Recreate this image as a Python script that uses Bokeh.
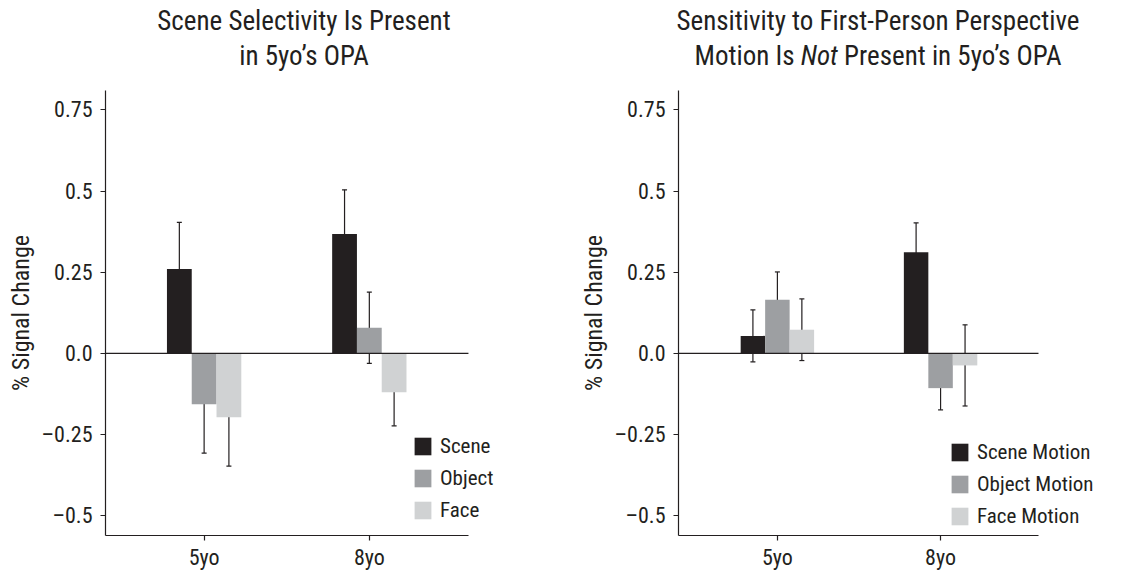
from bokeh.plotting import figure
from bokeh.models import (ColumnDataSource, Legend, LegendItem, Whisker,
                          TeeHead, FixedTicker, Div)
from bokeh.transform import dodge
from bokeh.layouts import row, column
from bokeh.embed import file_html
from bokeh.resources import INLINE

# ---- data ----
groups = ["5yo", "8yo"]
group_x = [1, 2]

left_series = ["Scene", "Object", "Face"]
left_values = [[0.26, 0.368], [-0.157, 0.079], [-0.197, -0.12]]
left_errors = [[0.144, 0.136], [0.15, 0.11], [0.15, 0.103]]

right_series = ["Scene Motion", "Object Motion", "Face Motion"]
right_values = [[0.054, 0.312], [0.165, -0.107], [0.073, -0.037]]
right_errors = [[0.08, 0.09], [0.086, 0.067], [0.095, 0.125]]

y_ticks = [-0.5, -0.25, 0.0, 0.25, 0.5, 0.75]
y_tick_labels = ["\u20130.5", "\u20130.25", "0.0", "0.25", "0.5", "0.75"]

colors = ["#231f20", "#9d9fa2", "#d0d2d3"]
INK = "#231f20"
FONT = "'Roboto Condensed', 'Liberation Sans Narrow', 'DejaVu Sans Condensed', sans-serif"
BAR_W = 0.15
offsets = [-BAR_W, 0.0, BAR_W]
Y_RANGE = (-0.561, 0.81)


def make_panel(series, values, errors, x_range, axis_end, width, border_left,
               border_right, legend_loc):
    p = figure(width=width, height=496, x_range=x_range, y_range=Y_RANGE,
               output_backend="svg", toolbar_location=None,
               min_border_left=border_left, min_border_right=border_right,
               min_border_top=14, min_border_bottom=36)
    p.grid.visible = False
    p.outline_line_color = None
    p.background_fill_color = "white"

    items = []
    for i, name in enumerate(series):
        src = ColumnDataSource(dict(
            x=group_x,
            top=values[i],
            upper=[v + e for v, e in zip(values[i], errors[i])],
            lower=[v - e for v, e in zip(values[i], errors[i])],
        ))
        r = p.vbar(x=dodge("x", offsets[i]), top="top", bottom=0, width=BAR_W,
                   source=src, fill_color=colors[i], line_color=None)
        items.append(LegendItem(label=name, renderers=[r]))
        w = Whisker(base=dodge("x", offsets[i]), upper="upper", lower="lower",
                    source=src, line_color=INK, line_width=1.2,
                    upper_head=TeeHead(size=5, line_color=INK, line_width=1.2),
                    lower_head=TeeHead(size=5, line_color=INK, line_width=1.2))
        p.add_layout(w)

    # zero line, ending where the x axis ends
    p.segment(x0=[x_range[0]], y0=[0], x1=[axis_end], y1=[0],
              line_color=INK, line_width=1.1)

    for ax in (p.xaxis[0], p.yaxis[0]):
        ax.axis_line_color = INK
        ax.axis_line_width = 1.2
        ax.major_tick_line_color = INK
        ax.major_tick_line_width = 1.2
        ax.major_tick_out = 5
        ax.major_tick_in = 0
        ax.minor_tick_line_color = None
        ax.major_label_text_font = FONT
        ax.major_label_text_font_size = "22px"
        ax.major_label_text_color = INK
        ax.axis_label_text_font = FONT
        ax.axis_label_text_font_size = "24px"
        ax.axis_label_text_font_style = "normal"
        ax.axis_label_text_color = INK

    p.xaxis.bounds = (x_range[0], axis_end)
    p.xaxis.ticker = FixedTicker(ticks=group_x)
    p.xaxis.major_label_overrides = {gx: g for gx, g in zip(group_x, groups)}
    p.xaxis.major_label_text_font_size = "22px"
    p.xaxis.major_label_standoff = 4

    p.yaxis.ticker = FixedTicker(ticks=y_ticks)
    p.yaxis.major_label_overrides = {t: l for t, l in zip(y_ticks, y_tick_labels)}
    p.yaxis.major_label_standoff = 8
    p.yaxis.axis_label = "% Signal Change"
    p.yaxis.axis_label_standoff = 4

    legend = Legend(items=items, location=legend_loc, orientation="vertical",
                    glyph_width=21, glyph_height=22, label_height=22,
                    spacing=8, padding=0, margin=0, label_standoff=7,
                    border_line_color=None, background_fill_alpha=0,
                    label_text_font=FONT, label_text_font_size="21px",
                    label_text_color=INK)
    p.add_layout(legend)
    return p


def title_div(html, width, shift):
    inner = (f'<div style="margin-left:{shift}px;width:{width - shift}px;'
             f'text-align:center;font-family:{FONT};font-size:27px;'
             f'line-height:35px;padding-top:4px;color:{INK};">{html}</div>')
    return Div(text=inner, width=width, height=76, margin=(0, 0, 0, 0))


left = make_panel(left_series, left_values, left_errors, (0.403, 2.794), 2.6,
                  573, 105, 73, (307, 13))
right = make_panel(right_series, right_values, right_errors, (0.394, 2.98), 2.6,
                   544, 105, 17, (271, 7))

t_left = title_div("Scene Selectivity Is Present<br>in 5yo\u2019s OPA", 573, 35)
t_right = title_div("Sensitivity to First-Person Perspective<br>"
                    "Motion Is <i>Not</i> Present in 5yo\u2019s OPA", 544, 66)

layout = row(column(t_left, left), column(t_right, right))

open("out.html", "w").write(file_html(layout, INLINE))
